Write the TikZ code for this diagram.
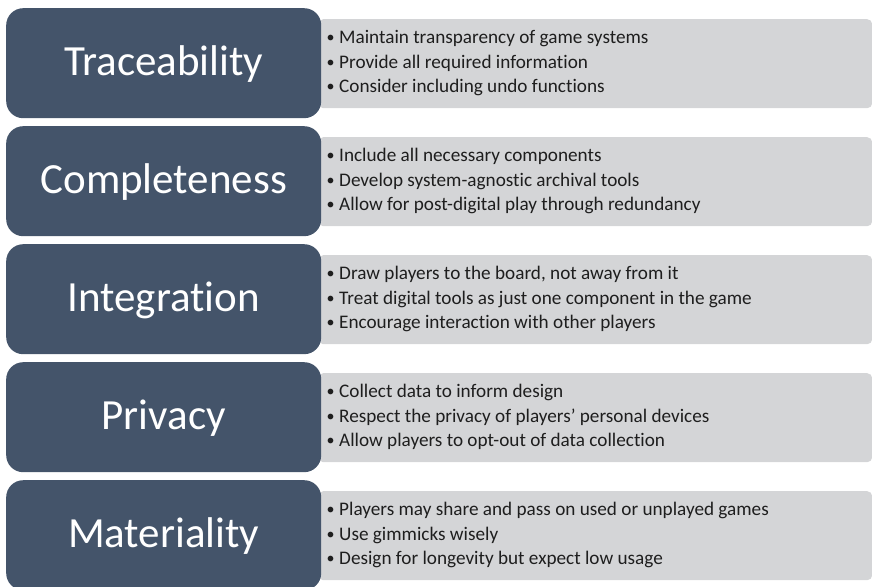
\documentclass[tikz,border=0pt]{standalone}
\usepackage{fontspec}
\setmainfont{Carlito}[Ligatures=NoCommon]
\definecolor{slate}{HTML}{44546A}
\definecolor{panel}{HTML}{D4D5D7}
\definecolor{ink}{HTML}{1E1E1E}

% small hanging bullet in front of each list item
\newcommand\itemdot{\llap{\raisebox{0.8pt}{\fontsize{16}{16}\selectfont •}\hspace{4.5pt}}}

% One principle: dark title box with a grey list panel behind it.
% #1 id, #2 top edge of the title box, #3 title, #4-#6 list items
\newcommand\principlerow[6]{%
  \node[listbox] (g#1) at (318,#2+11) {};
  \node[titlebox] (t#1) at (6,#2) {};
  \node[titletext] (n#1) at ($(t#1.center)+(0,12.5)$) {#3};
  \node[itemtext] (g#1a) at ($(g#1.west)+(21,-20)$) {\itemdot#4};
  \node[itemtext] (g#1b) at ($(g#1.west)+(21,4.5)$) {\itemdot#5};
  \node[itemtext] (g#1c) at ($(g#1.west)+(21,29)$) {\itemdot#6};
}

\usetikzlibrary{calc}
\begin{document}
\begin{tikzpicture}[x=1pt,y=-1pt,
  titlebox/.style={fill=slate, rounded corners=17pt, minimum width=315pt,
    minimum height=110pt, inner sep=0pt, anchor=north west},
  listbox/.style={fill=panel, rounded corners=5pt, minimum width=554pt,
    minimum height=89pt, inner sep=0pt, anchor=north west},
  titletext/.style={anchor=base, inner sep=0pt, text=white,
    font=\fontsize{43}{50}\selectfont},
  itemtext/.style={anchor=base west, inner sep=0pt, text=ink,
    font=\fontsize{19.2}{24}\selectfont}]
\useasboundingbox (0,0) rectangle (872,586);
\clip (0,0) rectangle (872,586);

\principlerow{1}{8}{Traceability}
  {Maintain transparency of game systems}
  {Provide all required information}
  {Consider including undo functions}
\principlerow{2}{126}{Completeness}
  {Include all necessary components}
  {Develop system-agnostic archival tools}
  {Allow for post-digital play through redundancy}
\principlerow{3}{244}{Integration}
  {Draw players to the board, not away from it}
  {Treat digital tools as just one component in the game}
  {Encourage interaction with other players}
\principlerow{4}{362}{Privacy}
  {Collect data to inform design}
  {Respect the privacy of players’ personal devices}
  {Allow players to opt-out of data collection}
\principlerow{5}{480}{Materiality}
  {Players may share and pass on used or unplayed games}
  {Use gimmicks wisely}
  {Design for longevity but expect low usage}
\end{tikzpicture}
\end{document}
